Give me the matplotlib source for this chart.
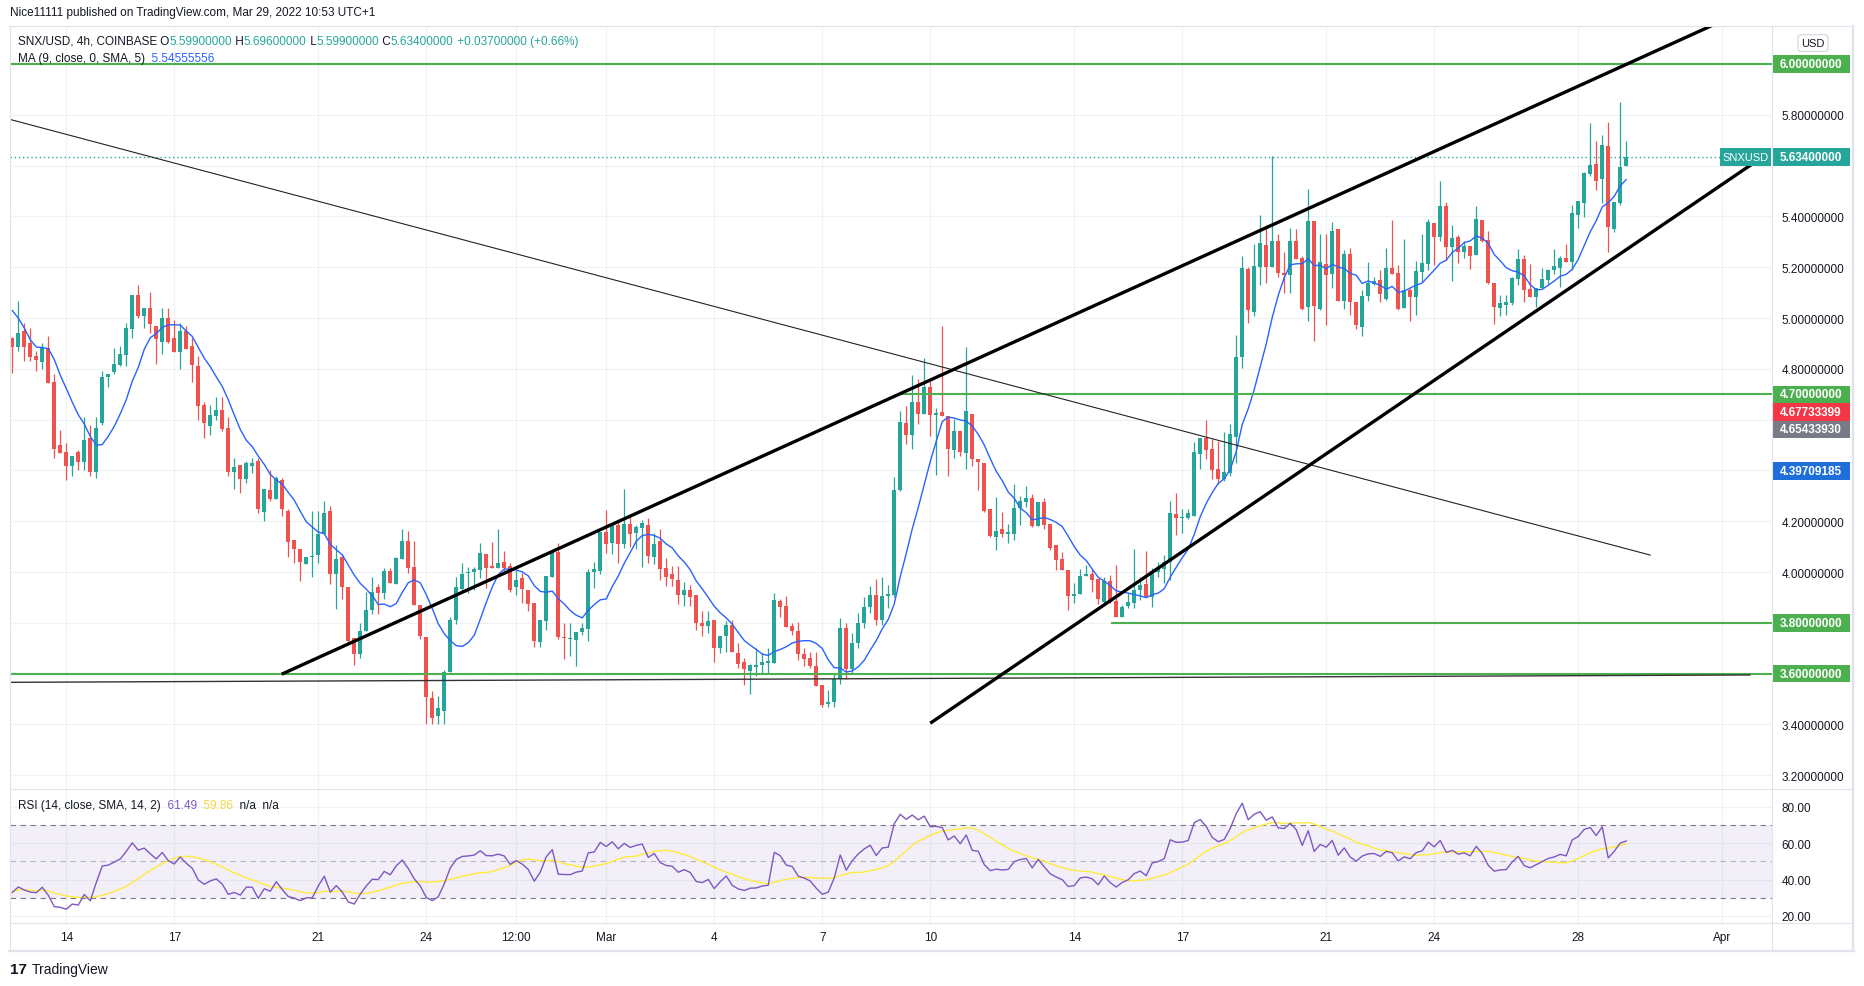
import numpy as np
import pandas as pd
import matplotlib
matplotlib.use("Agg")
import matplotlib.pyplot as plt
from matplotlib.lines import Line2D
from matplotlib.patches import Rectangle

plt.rcParams['font.family'] = ['Liberation Sans', 'DejaVu Sans']

# SNX/USD 4h candles, Feb 12 12:00 -> Mar 29 08:00
opens = [
    4.922, 4.886, 4.949, 4.902, 4.851, 4.827, 4.882, 4.749, 4.502, 4.471,
    4.416, 4.471, 4.435, 4.529, 4.396, 4.588, 4.769, 4.788, 4.816, 4.855,
    4.957, 5.090, 5.008, 5.039, 4.969, 4.906, 5.000, 4.922, 4.867, 4.949,
    4.890, 4.812, 4.659, 4.576, 4.616, 4.639, 4.569, 4.396, 4.420, 4.365,
    4.416, 4.439, 4.235, 4.322, 4.286, 4.361, 4.241, 4.125, 4.091, 4.030,
    4.058, 4.069, 4.150, 4.241, 3.991, 4.060, 3.942, 3.741, 3.677, 3.769,
    3.852, 3.942, 3.919, 4.005, 3.952, 4.052, 4.123, 4.021, 3.872, 3.744,
    3.505, 3.434, 3.452, 3.605, 3.810, 3.935, 3.995, 4.000, 4.010, 4.072,
    4.024, 4.018, 4.039, 4.024, 3.940, 3.978, 3.929, 3.880, 3.724, 3.808,
    3.982, 4.080, 3.743, 3.735, 3.733, 3.765, 3.775, 4.001, 4.005, 4.158,
    4.116, 4.184, 4.112, 4.190, 4.154, 4.175, 4.184, 4.061, 4.123, 4.018,
    3.993, 3.969, 3.911, 3.931, 3.908, 3.799, 3.786, 3.812, 3.700, 3.750,
    3.793, 3.680, 3.646, 3.612, 3.626, 3.634, 3.644, 3.642, 3.888, 3.868,
    3.788, 3.770, 3.678, 3.660, 3.631, 3.557, 3.481, 3.488, 3.580, 3.780,
    3.620, 3.720, 3.800, 3.863, 3.910, 3.810, 3.905, 3.909, 4.324, 4.588,
    4.539, 4.671, 4.621, 4.729, 4.617, 4.630, 4.614, 4.480, 4.557, 4.467,
    4.624, 4.447, 4.431, 4.248, 4.140, 4.169, 4.150, 4.150, 4.251, 4.275,
    4.290, 4.180, 4.277, 4.190, 4.108, 4.050, 4.010, 3.905, 3.915, 3.983,
    3.991, 3.974, 3.884, 3.966, 3.888, 3.825, 3.868, 3.877, 3.929, 3.953,
    3.901, 4.001, 4.014, 4.038, 4.227, 4.214, 4.211, 4.221, 4.463, 4.528,
    4.485, 4.407, 4.367, 4.391, 4.531, 4.848, 5.195, 5.025, 5.203, 5.288,
    5.200, 5.303, 5.178, 5.171, 5.303, 5.237, 5.043, 5.383, 5.037, 5.213,
    5.175, 5.350, 5.069, 5.252, 5.064, 4.965, 5.086, 5.133, 5.149, 5.075,
    5.196, 5.176, 5.039, 5.111, 5.082, 5.183, 5.212, 5.376, 5.318, 5.441,
    5.278, 5.318, 5.261, 5.282, 5.248, 5.388, 5.306, 5.137, 5.039, 5.052,
    5.059, 5.153, 5.231, 5.114, 5.082, 5.118, 5.150, 5.190, 5.196, 5.235,
    5.220, 5.405, 5.455, 5.567, 5.607, 5.546, 5.677, 5.350, 5.455, 5.599,
]
highs = [
    4.925, 5.069, 4.980, 4.961, 4.871, 4.902, 4.929, 4.780, 4.561, 4.510,
    4.459, 4.482, 4.612, 4.580, 4.612, 4.792, 4.780, 4.882, 4.890, 4.980,
    5.090, 5.129, 5.039, 5.102, 4.969, 5.039, 5.039, 4.992, 4.980, 4.969,
    4.922, 4.851, 4.671, 4.659, 4.690, 4.690, 4.612, 4.451, 4.420, 4.439,
    4.451, 4.451, 4.329, 4.400, 4.380, 4.369, 4.250, 4.125, 4.091, 4.060,
    4.241, 4.241, 4.280, 4.259, 4.106, 4.073, 3.942, 3.741, 3.800, 3.922,
    3.982, 3.953, 4.018, 4.018, 4.060, 4.169, 4.162, 4.123, 3.872, 3.744,
    3.531, 3.511, 3.616, 3.822, 3.982, 4.037, 4.021, 4.021, 4.115, 4.072,
    4.119, 4.169, 4.084, 4.034, 4.010, 3.995, 3.929, 3.880, 3.813, 3.986,
    4.080, 4.115, 3.801, 3.799, 3.766, 3.801, 4.013, 4.041, 4.156, 4.246,
    4.184, 4.207, 4.327, 4.227, 4.187, 4.207, 4.212, 4.152, 4.171, 4.054,
    4.024, 4.024, 3.961, 3.948, 3.908, 3.848, 3.848, 3.812, 3.750, 3.807,
    3.812, 3.719, 3.661, 3.638, 3.702, 3.681, 3.702, 3.918, 3.895, 3.907,
    3.801, 3.803, 3.701, 3.685, 3.684, 3.557, 3.537, 3.600, 3.820, 3.800,
    3.760, 3.840, 3.900, 3.944, 3.974, 3.980, 3.948, 4.375, 4.635, 4.654,
    4.775, 4.761, 4.843, 4.752, 4.647, 4.969, 4.614, 4.601, 4.557, 4.886,
    4.624, 4.447, 4.431, 4.248, 4.297, 4.235, 4.190, 4.346, 4.301, 4.340,
    4.307, 4.277, 4.290, 4.190, 4.108, 4.078, 4.010, 3.957, 4.013, 4.026,
    4.013, 3.974, 3.982, 3.988, 4.027, 3.870, 3.919, 4.090, 3.982, 4.084,
    4.018, 4.041, 4.067, 4.280, 4.311, 4.247, 4.247, 4.511, 4.528, 4.599,
    4.524, 4.518, 4.550, 4.583, 4.932, 5.246, 5.201, 5.291, 5.407, 5.365,
    5.639, 5.331, 5.260, 5.354, 5.350, 5.246, 5.507, 5.383, 5.331, 5.331,
    5.378, 5.350, 5.269, 5.276, 5.064, 5.112, 5.221, 5.163, 5.190, 5.275,
    5.388, 5.209, 5.310, 5.120, 5.225, 5.333, 5.392, 5.376, 5.539, 5.458,
    5.366, 5.327, 5.303, 5.282, 5.442, 5.388, 5.342, 5.137, 5.092, 5.092,
    5.163, 5.272, 5.248, 5.212, 5.118, 5.199, 5.192, 5.272, 5.244, 5.290,
    5.444, 5.461, 5.575, 5.769, 5.698, 5.719, 5.774, 5.458, 5.852, 5.696,
]
lows = [
    4.782, 4.872, 4.833, 4.833, 4.793, 4.801, 4.745, 4.451, 4.467, 4.361,
    4.380, 4.400, 4.400, 4.380, 4.369, 4.580, 4.729, 4.780, 4.812, 4.812,
    4.922, 5.000, 4.961, 4.941, 4.820, 4.859, 4.902, 4.867, 4.800, 4.878,
    4.749, 4.600, 4.529, 4.541, 4.600, 4.557, 4.380, 4.329, 4.310, 4.349,
    4.392, 4.231, 4.200, 4.278, 4.286, 4.220, 4.060, 4.034, 3.963, 4.030,
    3.982, 4.034, 4.150, 3.952, 3.854, 3.895, 3.714, 3.634, 3.661, 3.769,
    3.835, 3.835, 3.895, 3.958, 3.952, 4.052, 3.997, 3.869, 3.736, 3.403,
    3.403, 3.403, 3.403, 3.605, 3.796, 3.916, 3.916, 3.929, 3.975, 3.936,
    4.016, 4.018, 3.999, 3.923, 3.908, 3.880, 3.848, 3.707, 3.706, 3.773,
    3.982, 3.736, 3.658, 3.668, 3.631, 3.753, 3.729, 3.937, 3.993, 4.076,
    4.072, 4.034, 4.095, 4.098, 4.092, 4.021, 4.034, 4.031, 3.969, 3.945,
    3.945, 3.875, 3.867, 3.867, 3.773, 3.749, 3.760, 3.647, 3.681, 3.684,
    3.684, 3.622, 3.555, 3.520, 3.590, 3.603, 3.603, 3.642, 3.825, 3.783,
    3.754, 3.652, 3.629, 3.622, 3.550, 3.469, 3.469, 3.470, 3.560, 3.580,
    3.600, 3.700, 3.780, 3.840, 3.790, 3.790, 3.860, 3.900, 4.320, 4.503,
    4.484, 4.582, 4.621, 4.535, 4.383, 4.613, 4.378, 4.451, 4.456, 4.405,
    4.418, 4.323, 4.238, 4.137, 4.088, 4.137, 4.114, 4.127, 4.187, 4.255,
    4.176, 4.180, 4.170, 4.088, 4.009, 4.010, 3.852, 3.878, 3.915, 3.983,
    3.922, 3.876, 3.870, 3.880, 3.825, 3.825, 3.857, 3.857, 3.890, 3.900,
    3.864, 3.982, 3.959, 3.969, 4.145, 4.154, 4.208, 4.221, 4.407, 4.446,
    4.365, 4.345, 4.359, 4.380, 4.430, 4.803, 4.982, 5.010, 5.132, 5.139,
    5.200, 5.162, 5.099, 5.099, 5.233, 5.031, 4.988, 4.910, 5.031, 4.973,
    5.119, 5.067, 5.034, 5.014, 4.956, 4.929, 5.067, 5.131, 5.065, 5.072,
    5.174, 5.033, 5.039, 4.990, 5.013, 5.144, 5.190, 5.209, 5.303, 5.229,
    5.146, 5.218, 5.235, 5.192, 5.248, 5.301, 5.133, 4.978, 5.007, 5.013,
    5.052, 5.131, 5.065, 5.082, 5.042, 5.118, 5.133, 5.173, 5.122, 5.222,
    5.190, 5.353, 5.399, 5.559, 5.506, 5.454, 5.261, 5.340, 5.447, 5.599,
]
closes = [
    4.886, 4.941, 4.886, 4.847, 4.835, 4.882, 4.745, 4.486, 4.467, 4.416,
    4.459, 4.435, 4.522, 4.396, 4.569, 4.769, 4.780, 4.820, 4.859, 4.961,
    5.090, 5.008, 5.039, 4.976, 4.918, 5.000, 4.906, 4.867, 4.949, 4.878,
    4.816, 4.655, 4.588, 4.620, 4.639, 4.565, 4.396, 4.412, 4.365, 4.431,
    4.431, 4.247, 4.329, 4.286, 4.369, 4.247, 4.119, 4.089, 4.038, 4.060,
    4.060, 4.150, 4.233, 3.991, 4.052, 3.940, 3.729, 3.677, 3.769, 3.852,
    3.923, 3.919, 4.005, 3.958, 4.056, 4.123, 4.018, 3.869, 3.749, 3.507,
    3.426, 3.465, 3.605, 3.812, 3.942, 3.992, 4.000, 4.013, 4.076, 4.018,
    4.016, 4.037, 4.018, 3.928, 3.969, 3.932, 3.874, 3.729, 3.813, 3.986,
    4.080, 3.746, 3.740, 3.738, 3.766, 3.778, 4.001, 4.013, 4.156, 4.112,
    4.184, 4.112, 4.190, 4.149, 4.178, 4.195, 4.065, 4.111, 4.014, 3.982,
    3.974, 3.908, 3.931, 3.901, 3.799, 3.786, 3.809, 3.700, 3.750, 3.793,
    3.684, 3.638, 3.618, 3.633, 3.634, 3.646, 3.650, 3.890, 3.863, 3.783,
    3.769, 3.678, 3.658, 3.629, 3.550, 3.475, 3.488, 3.580, 3.780, 3.620,
    3.720, 3.800, 3.863, 3.910, 3.810, 3.905, 3.915, 4.324, 4.592, 4.539,
    4.671, 4.621, 4.729, 4.617, 4.626, 4.613, 4.484, 4.557, 4.472, 4.634,
    4.444, 4.434, 4.242, 4.142, 4.163, 4.150, 4.157, 4.251, 4.278, 4.290,
    4.180, 4.277, 4.187, 4.094, 4.048, 4.010, 3.907, 3.915, 3.983, 3.991,
    3.970, 3.895, 3.966, 3.884, 3.825, 3.861, 3.881, 3.929, 3.949, 3.903,
    4.005, 4.017, 4.041, 4.233, 4.214, 4.216, 4.233, 4.472, 4.528, 4.481,
    4.400, 4.367, 4.394, 4.544, 4.848, 5.197, 5.030, 5.207, 5.295, 5.203,
    5.303, 5.178, 5.171, 5.303, 5.233, 5.037, 5.383, 5.046, 5.221, 5.171,
    5.344, 5.069, 5.252, 5.063, 4.971, 5.088, 5.139, 5.146, 5.095, 5.196,
    5.174, 5.037, 5.111, 5.082, 5.186, 5.217, 5.379, 5.318, 5.441, 5.278,
    5.314, 5.261, 5.282, 5.244, 5.392, 5.303, 5.137, 5.043, 5.059, 5.063,
    5.157, 5.231, 5.111, 5.082, 5.118, 5.153, 5.190, 5.207, 5.235, 5.222,
    5.412, 5.461, 5.573, 5.604, 5.541, 5.682, 5.359, 5.458, 5.596, 5.634,
]

# MA(9) values of the first 8 bars (needs closes from before the window)
ma_head = [5.030, 5.000, 4.961, 4.915, 4.886, 4.884, 4.880, 4.837]
# Wilder averages carried in from before the window (RSI ~33 at the left edge)
rsi_gain0, rsi_loss0 = 0.030, 0.061

start = pd.Timestamp("2022-02-12 12:00")
tick_dates = ["2022-02-14", "2022-02-17", "2022-02-21", "2022-02-24", "2022-02-26 12:00",
              "2022-03-01", "2022-03-04", "2022-03-07", "2022-03-10", "2022-03-14",
              "2022-03-17", "2022-03-21", "2022-03-24", "2022-03-28", "2022-04-01"]
tick_labels = ["14", "17", "21", "24", "12:00", "Mar", "4", "7", "10", "14",
               "17", "21", "24", "28", "Apr"]

price_ticks = [3.2, 3.4, 3.6, 3.8, 4.0, 4.2, 4.4, 4.6, 4.8, 5.0, 5.2, 5.4, 5.6, 5.8, 6.0]
# scale labels that sit under a coloured tag on the chart
hidden_ticks = [3.6, 3.8, 4.4, 4.6, 5.6, 6.0]

# drawn levels / trend lines: (bar index, price) pairs
h_levels = [(6.0, -0.4), (4.7, 148.1), (3.8, 183.3), (3.6, -0.4)]
thick_lines = [((44.9, 3.598), (283.4, 6.153)), ((153.0, 3.405), (290.2, 5.61))]
thin_line = ((-0.5, 5.783), (273.0, 4.067))
flat_line = ((-0.4, 3.566), (289.6, 3.595))

tags = [(6.0, "6.00000000", "#4CAF50"), (5.634, "5.63400000", "#26A69A"),
        (4.7, "4.70000000", "#4CAF50"), (4.67733399, "4.67733399", "#F23645"),
        (4.6543393, "4.65433930", "#787B86"), (4.39709185, "4.39709185", "#1E6FD9"),
        (3.8, "3.80000000", "#4CAF50"), (3.6, "3.60000000", "#4CAF50")]

W, H = 1864, 987
GREEN, RED = "#26A69A", "#EF5350"
TXT = "#131722"
GRID = "#EFF1F5"
FRAME = "#E0E3EB"

def fx(px):
    return px / W

def fy(py):
    return 1 - py / H

o = np.array(opens); hi = np.array(highs); lo = np.array(lows); c = np.array(closes)
n = len(c)
x = np.arange(n)
tick_pos = [(pd.Timestamp(d) - start) / pd.Timedelta(hours=4) for d in tick_dates]

ma = pd.Series(c).rolling(9).mean().values
ma[:8] = ma_head

g, l = rsi_gain0, rsi_loss0
rsi = []
for i in range(n):
    if i > 0:
        d = c[i] - c[i - 1]
        g = (g * 13 + max(d, 0)) / 14
        l = (l * 13 + max(-d, 0)) / 14
    rsi.append(100 * g / (g + l))
rsi = np.array(rsi)
rsi_ma = pd.Series(rsi).rolling(14, min_periods=1).mean().values

fig = plt.figure(figsize=(W / 100, H / 100), dpi=100, facecolor="white")
ax = fig.add_axes([fx(10), fy(790), fx(1772) - fx(10), fy(27) - fy(790)])
axr = fig.add_axes([fx(10), fy(924), fx(1772) - fx(10), fy(790) - fy(924)], sharex=ax)

XL = (-0.38, 293.3)
ax.set_xlim(*XL)
ax.set_ylim(3.146, 6.150)
axr.set_ylim(16.1, 89.9)

for a in (ax, axr):
    for s in a.spines.values():
        s.set_visible(False)
    a.set_xticks(tick_pos)
    a.grid(True, color=GRID, lw=0.9, zorder=0)
    a.set_axisbelow(True)
    a.yaxis.tick_right()
    a.tick_params(axis="y", length=0, pad=7, labelsize=8.5, labelcolor=TXT)
    a.tick_params(axis="x", length=0)

ax.set_yticks(price_ticks)
ax.set_yticklabels(["" if p in hidden_ticks else f"{p:.8f}" for p in price_ticks])
ax.tick_params(axis="x", labelbottom=False)
axr.set_yticks([20, 40, 60, 80])
axr.set_yticklabels(["20.00", "40.00", "60.00", "80.00"])
axr.set_xticklabels(tick_labels)
axr.tick_params(axis="x", pad=6, labelsize=8.5, labelcolor=TXT)

# candles
col = np.where(c >= o, GREEN, RED)
ax.vlines(x, lo, hi, colors=col, lw=0.9, zorder=3)
ax.bar(x, np.maximum(np.abs(c - o), 0.004), bottom=np.minimum(o, c), width=0.72,
       color=col, lw=0, zorder=4)
ax.plot(x, ma, color="#2962FF", lw=1.0, zorder=5)

# drawings
for p, x0 in h_levels:
    ax.plot([x0, XL[1]], [p, p], color="#4CAF50", lw=1.5, zorder=6)
for (x0, y0), (x1, y1) in thick_lines:
    ax.plot([x0, x1], [y0, y1], color="black", lw=2.4, zorder=7, solid_capstyle="butt")
ax.plot([thin_line[0][0], thin_line[1][0]], [thin_line[0][1], thin_line[1][1]],
        color="#222222", lw=0.8, zorder=6)
ax.plot([flat_line[0][0], flat_line[1][0]], [flat_line[0][1], flat_line[1][1]],
        color="#333333", lw=1.0, zorder=6)
ax.axhline(closes[-1], color=GREEN, lw=1, ls=(0, (1, 2)), zorder=2)

# RSI pane
axr.axhspan(30, 70, color="#7E57C2", alpha=0.09, lw=0, zorder=1)
axr.axhline(70, color="#787B86", lw=0.8, dashes=(5, 4), zorder=2)
axr.axhline(30, color="#787B86", lw=0.8, dashes=(5, 4), zorder=2)
axr.axhline(50, color="#787B86", lw=0.8, dashes=(5, 4), alpha=0.5, zorder=2)
axr.plot(x, rsi_ma, color="#FFEB3B", lw=1.0, zorder=3)
axr.plot(x, rsi, color="#7E57C2", lw=1.0, zorder=4)

# frame
def hline(y, x0, x1, lw=0.8):
    fig.add_artist(Line2D([fx(x0), fx(x1)], [fy(y), fy(y)], color=FRAME, lw=lw))

def vline(xp, y0, y1, lw=0.8):
    fig.add_artist(Line2D([fx(xp), fx(xp)], [fy(y0), fy(y1)], color=FRAME, lw=lw))

hline(27, 9, 1853)
hline(790, 10, 1853)
hline(924, 10, 1853)
hline(952, 9, 1854, lw=1.6)
vline(10, 27, 952)
vline(1772, 27, 952)
vline(1853, 27, 952, lw=1.6)

# axis tags on the price scale, stacked when they overlap
bh = 17.5
prev_bottom = None
for p, s, colr in tags:
    yimg = H - ax.transData.transform((0, p))[1]
    if prev_bottom is not None and yimg - bh / 2 < prev_bottom:
        yimg = prev_bottom + bh / 2
    fig.add_artist(Rectangle((fx(1772), fy(yimg + bh / 2)), 78 / W, bh / H,
                             transform=fig.transFigure, color=colr, lw=0))
    fig.text(fx(1811), fy(yimg), s, color="white", fontsize=8.5, fontweight="bold",
             ha="center", va="center")
    prev_bottom = yimg + bh / 2
    if s == "5.63400000":
        fig.add_artist(Rectangle((fx(1720), fy(yimg + bh / 2)), 51 / W, bh / H,
                                 transform=fig.transFigure, color=GREEN, lw=0))
        fig.text(fx(1745.5), fy(yimg), "SNXUSD", color="white", fontsize=8,
                 ha="center", va="center")

fig.text(fx(1813), fy(44), "USD", color=TXT, fontsize=8, ha="center", va="center",
         bbox=dict(boxstyle="round,pad=0.3", fc="white", ec="#D1D4DC", lw=0.8))

# header / legends
renderer = fig.canvas.get_renderer()

def chain(px, py, parts, size=8.5):
    for s, colr in parts:
        t = fig.text(fx(px), fy(py), s, color=colr, fontsize=size, ha="left", va="center")
        px += t.get_window_extent(renderer).width

fig.text(fx(10), fy(13), "Nice11111 published on TradingView.com, Mar 29, 2022 10:53 UTC+1",
         color=TXT, fontsize=8.5, ha="left", va="center")
chain(18, 42, [("SNX/USD, 4h, COINBASE", TXT), (" O", TXT), ("5.59900000", GREEN),
               (" H", TXT), ("5.69600000", GREEN), (" L", TXT), ("5.59900000", GREEN),
               (" C", TXT), ("5.63400000", GREEN), (" +0.03700000 (+0.66%)", GREEN)])
chain(18, 59, [("MA (9, close, 0, SMA, 5)", TXT), ("  5.54555556", "#2962FF")])
chain(18, 806, [("RSI (14, close, SMA, 14, 2)", TXT), ("  61.49", "#7E57C2"),
                ("  59.86", "#F5D63D"), ("  n/a  n/a", TXT)])

fig.text(fx(10), fy(970), "17", color=TXT, fontsize=11, fontweight="heavy",
         ha="left", va="center")
fig.text(fx(32), fy(970), "TradingView", color=TXT, fontsize=10, ha="left", va="center")

fig.savefig("out.png", dpi=100, facecolor="white")
